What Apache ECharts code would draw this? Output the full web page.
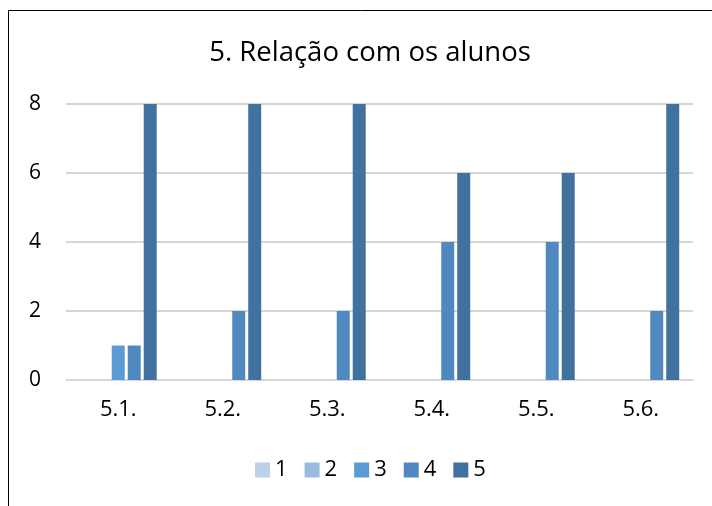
<!DOCTYPE html>
<html style="height: 100%">
  <head>
    <meta charset="utf-8" />
  </head>
  <body style="height: 100%; margin: 0; background: #fff">
    <div id="container" style="width: 712px; height: 506px"></div>
    <script src="https://cdn.jsdelivr.net/npm/echarts@6/dist/echarts.min.js"></script>
    <script type="text/javascript">
      var categories = ["5.1.", "5.2.", "5.3.", "5.4.", "5.5.", "5.6."];
      var seriesNames = ["1", "2", "3", "4", "5"];
      var s1 = [0, 0, 0, 0, 0, 0];
      var s2 = [0, 0, 0, 0, 0, 0];
      var s3 = [1, 0, 0, 0, 0, 0];
      var s4 = [1, 2, 2, 4, 4, 2];
      var s5 = [8, 8, 8, 6, 6, 8];
      var yTicks = [0, 2, 4, 6, 8];
      var colors = ["#bdd0ea", "#9bbadf", "#5b9bd5", "#4f89c0", "#41729f"];

      var font = "'Open Sans', 'Liberation Sans', sans-serif";
      var myChart = echarts.init(document.getElementById("container"));
      var allData = [s1, s2, s3, s4, s5];

      var series = seriesNames.map(function (name, i) {
        return {
          name: name,
          type: "bar",
          data: allData[i].map(function (v) {
            return v === 0 ? null : v;
          }),
          barWidth: 13,
          barGap: "23%",
          itemStyle: { color: colors[i] },
        };
      });

      var option = {
        animation: false,
        color: colors,
        title: {
          text: "5. Relação com os alunos",
          left: 365,
          textAlign: "center",
          top: 34,
          textStyle: { fontFamily: font, fontSize: 27.5, fontWeight: "normal", color: "#000" },
        },
        legend: {
          bottom: 20,
          left: 250,
          itemWidth: 15,
          itemHeight: 15,
          itemGap: 17,
          icon: "rect",
          data: seriesNames,
          textStyle: { fontFamily: font, fontSize: 22, color: "#000" },
        },
        grid: { left: 66, right: 19, top: 104, bottom: 126 },
        xAxis: {
          type: "category",
          data: categories,
          axisTick: { show: false },
          axisLine: { lineStyle: { color: "#d9d9d9", width: 1.5 } },
          axisLabel: { fontFamily: font, fontSize: 22, color: "#000", margin: 19 },
        },
        yAxis: {
          type: "value",
          min: yTicks[0],
          max: yTicks[yTicks.length - 1],
          interval: 2,
          axisLine: { show: false },
          axisTick: { show: false },
          axisLabel: { fontFamily: font, fontSize: 21, color: "#000", margin: 25 },
          splitLine: { lineStyle: { color: "#c8c8c8", width: 1.5 } },
        },
        graphic: [
          {
            type: "polyline",
            shape: { points: [[8.5, 506], [8.5, 10.5], [712, 10.5]] },
            style: { stroke: "#000", fill: null, lineWidth: 1 },
          },
        ],
        series: series,
      };

      myChart.setOption(option);
    </script>
  </body>
</html>
